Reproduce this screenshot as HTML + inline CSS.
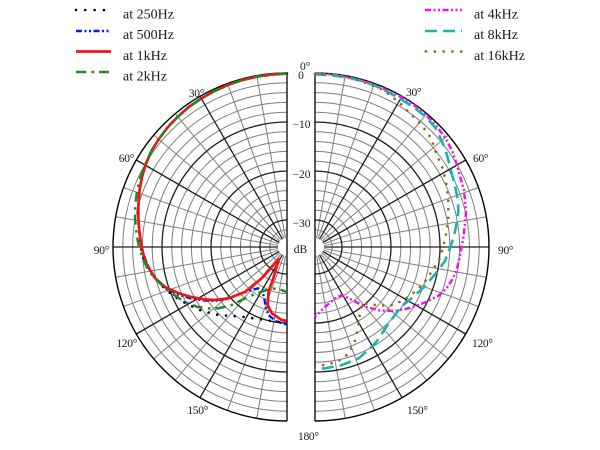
<!DOCTYPE html>
<html>
<head>
<meta charset="utf-8">
<style>
  html,body{margin:0;padding:0;background:#fff;}
  svg{display:block;}
  text{font-family:"Liberation Serif","DejaVu Serif",serif;fill:#1a1a1a;}
</style>
</head>
<body>
<svg width="600" height="450" viewBox="0 0 600 450" xmlns="http://www.w3.org/2000/svg">
  <rect x="0" y="0" width="600" height="450" fill="#fff"/>

  <!-- LEFT GRID -->
  <g id="gridL" transform="translate(287,247)" fill="none">
    <g stroke="#7e7e7e" stroke-width="1">
      <path d="M0,-164.2 A164.2,164.2 0 0 0 0,164.2"/>
      <path d="M0,-154.4 A154.4,154.4 0 0 0 0,154.4"/>
      <path d="M0,-144.6 A144.6,144.6 0 0 0 0,144.6"/>
      <path d="M0,-134.8 A134.8,134.8 0 0 0 0,134.8"/>
      <path d="M0,-115.2 A115.2,115.2 0 0 0 0,115.2"/>
      <path d="M0,-105.4 A105.4,105.4 0 0 0 0,105.4"/>
      <path d="M0,-95.6 A95.6,95.6 0 0 0 0,95.6"/>
      <path d="M0,-85.8 A85.8,85.8 0 0 0 0,85.8"/>
      <path d="M0,-66.2 A66.2,66.2 0 0 0 0,66.2"/>
      <path d="M0,-56.4 A56.4,56.4 0 0 0 0,56.4"/>
      <path d="M0,-46.6 A46.6,46.6 0 0 0 0,46.6"/>
      <path d="M0,-36.8 A36.8,36.8 0 0 0 0,36.8"/>
      <path d="M0,-17.2 A17.2,17.2 0 0 0 0,17.2"/>
      <line x1="0" y1="-9" x2="0" y2="-174" transform="rotate(-10)"/>
      <line x1="0" y1="-9" x2="0" y2="-174" transform="rotate(-20)"/>
      <line x1="0" y1="-9" x2="0" y2="-174" transform="rotate(-40)"/>
      <line x1="0" y1="-9" x2="0" y2="-174" transform="rotate(-50)"/>
      <line x1="0" y1="-9" x2="0" y2="-174" transform="rotate(-70)"/>
      <line x1="0" y1="-9" x2="0" y2="-174" transform="rotate(-80)"/>
      <line x1="0" y1="-9" x2="0" y2="-174" transform="rotate(-100)"/>
      <line x1="0" y1="-9" x2="0" y2="-174" transform="rotate(-110)"/>
      <line x1="0" y1="-9" x2="0" y2="-174" transform="rotate(-130)"/>
      <line x1="0" y1="-9" x2="0" y2="-174" transform="rotate(-140)"/>
      <line x1="0" y1="-9" x2="0" y2="-174" transform="rotate(-160)"/>
      <line x1="0" y1="-9" x2="0" y2="-174" transform="rotate(-170)"/>
    </g>
    <g stroke="#1e1e1e" stroke-width="1.3">
      <path d="M0,-125 A125,125 0 0 0 0,125"/>
      <path d="M0,-76 A76,76 0 0 0 0,76"/>
      <path d="M0,-27 A27,27 0 0 0 0,27"/>
      <line x1="0" y1="-9" x2="0" y2="-174" transform="rotate(-30)"/>
      <line x1="0" y1="-9" x2="0" y2="-174" transform="rotate(-60)"/>
      <line x1="0" y1="-9" x2="0" y2="-174" transform="rotate(-90)"/>
      <line x1="0" y1="-9" x2="0" y2="-174" transform="rotate(-120)"/>
      <line x1="0" y1="-9" x2="0" y2="-174" transform="rotate(-150)"/>
    </g>
    <path d="M0,-174 A174,174 0 0 0 0,174" stroke="#000" stroke-width="1.4"/>
    <line x1="0" y1="-174" x2="0" y2="174" stroke="#000" stroke-width="1.3"/>
  </g>
  <!-- RIGHT GRID (mirror) -->
  <use href="#gridL" transform="translate(602,0) scale(-1,1)"/>

  <!-- LEFT CURVES -->
  <g fill="none" stroke-linejoin="round">
    <polyline stroke="#000" stroke-width="2.6" stroke-linecap="round" stroke-dasharray="0.01 8.8"
      points="287,73.5 272,74.5 257,76.6 242.3,80.1 228,84.9 214.3,91.1 201.3,98.5 188.9,106.9 177.7,116.8 167.5,127.5 158.7,139.3 151,151.8 145.4,165.3 142,177 139.5,190 138.4,205 138.3,216.7 139,230 140,245 143.3,258 148,268 155,278 165,289 175,297 187,304 200,310 215,314.5 230,316 245,317 258,319 272,321 287,323"/>
    <polyline stroke="#0a18ee" stroke-width="2.4" stroke-dasharray="6 2.5 2 2.5 2 2.5"
      points="287,73.5 272,74.5 257,76.6 242.3,80.1 228,84.9 214.3,91.1 201.3,98.5 188.9,106.9 177.7,116.8 167.5,127.5 158.7,139.3 151,151.8 145.4,165.3 142,177 139.5,190 138.4,205 138.3,216.7 139,228 140.5,240 143,253 147.5,265 155,278.5 165,288 178,294.5 191,298.5 205,300.5 215,301 228,298.5 240,294 250,290.5 258.3,288.3 262,291 264,297 265.5,305 268.3,315 276.7,321.7 287,324.5"/>
    <polyline stroke="#ee1414" stroke-width="2.7"
      points="287,73.5 272,74.5 257,76.6 242.3,80.1 228,84.9 214.3,91.1 201.3,98.5 188.9,106.9 177.7,116.8 167.5,127.5 158.7,139.3 151,151.8 145.4,165.3 142,177 139.5,190 138.4,205 138.3,216.7 139,228 140.5,240 143,253 147,265 155,278 165,287 178,293 191,297 205,299.5 215,300 228,298.5 245,292 262,278 279,259 273.3,278.3 268.5,291.7 267.7,305 271.7,313.3 281.7,320 287,321"/>
    <polyline stroke="#1e8a1e" stroke-width="2.5" stroke-dasharray="10 5.5 2.5 5"
      points="287,73.5 272,74.5 257,76.6 242.3,80.1 228,84.9 214.3,91.1 201.3,98.5 188.9,106.9 177.7,116.8 167.5,127.5 158.7,139.3 151,151.8 144.5,166 139.5,180 136.7,193.3 135.3,205 135,216.7 136,230 138,242 140,250 143.5,260 148.3,270 153.5,277 160,283.3 168,290.5 176.7,296.7 185,302 196.7,306.7 208,308.5 218.3,308.3 231.7,305 248.3,296.7 261.7,291.7 271.7,288.3 280,289.5 287,292"/>
  </g>

  <!-- RIGHT CURVES -->
  <g fill="none" stroke-linejoin="round">
    <polyline stroke="#f012f0" stroke-width="2.5" stroke-dasharray="6 2.5 2 2.5 2 2.5"
      points="315,73.5 330,74.2 345,76.4 359.7,79.9 374,84.6 388,90.7 401.5,97.2 414.2,105.3 425.9,114.9 436.3,125.7 445.2,137.7 452.2,150.9 457,165 460.5,178 464,190 465,200 466,212 465,223.3 463.7,235 461.7,246.7 459.5,258 456.7,270 452,280 446,289 438,296 426,302 410,308 395,311 380,310.5 365.3,306.7 352,300 342,295 335.3,298.3 325.3,306.7 317,315 315,316.7"/>
    <polyline stroke="#1ab4ae" stroke-width="2.6" stroke-dasharray="12 6"
      points="315,74.5 330,75 344.9,77.1 359.6,80.3 373.8,85.1 387.2,91.6 400.5,98.9 413.1,106.9 424.9,116 434.9,127.1 441.8,140.6 446.9,154.7 450.3,168 454.5,184 458,200 458.3,212 456.7,223.3 454,236 450,248 445,261 437,272 424,287 412,298 402,306 395,315 388.7,323.3 381,335 375.3,343.3 366,352 358.7,358.3 342,365 325.3,368.3 315,369.5"/>
    <polyline stroke="#9a6810" stroke-width="2.7" stroke-linecap="round" stroke-dasharray="0.01 8.5"
      points="315,74 330,74.6 345,77 359.5,80.6 372,85.5 383.3,90 392.5,97 401.7,105 413.3,116.7 421.7,125 430,136.7 434,146 436.7,155 440,162 443.3,170 446.5,185 448.3,200 448.3,220 446,234 443.3,246.7 440,258 434,268 424,283 415.3,291.7 405,299 393.7,305 384,305.5 375.3,305 362,303.3 360,312 359,322 355.3,340 348.7,353.3 341.7,359.3 332,363.3 315.3,366.7"/>
  </g>

  <!-- Angle labels -->
  <g font-size="11.5" letter-spacing="-0.3">
    <text x="300" y="70">0°</text>
    <text x="298" y="440">180°</text>
    <text x="204" y="97" text-anchor="end">30°</text>
    <text x="134" y="162" text-anchor="end">60°</text>
    <text x="109" y="254" text-anchor="end">90°</text>
    <text x="137" y="347" text-anchor="end">120°</text>
    <text x="208" y="414" text-anchor="end">150°</text>
    <text x="406" y="96">30°</text>
    <text x="473" y="162">60°</text>
    <text x="498" y="254">90°</text>
    <text x="472" y="347">120°</text>
    <text x="407" y="414">150°</text>
  </g>
  <!-- dB labels -->
  <g font-size="11.5" text-anchor="middle">
    <text x="301" y="79">0</text>
    <text x="301.5" y="128">−10</text>
    <text x="301.5" y="178">−20</text>
    <text x="301.5" y="227">−30</text>
    <text x="300.5" y="253">dB</text>
  </g>

  <!-- Legend handles -->
  <g fill="none">
    <line x1="76" y1="10" x2="111" y2="10" stroke="#000" stroke-width="2.6" stroke-linecap="round" stroke-dasharray="0.01 9.3"/>
    <line x1="76" y1="31" x2="111" y2="31" stroke="#0a18ee" stroke-width="2.4" stroke-dasharray="6 2.5 2 2.5 2 2.5"/>
    <line x1="76" y1="51.5" x2="111" y2="51.5" stroke="#ee1414" stroke-width="2.7"/>
    <line x1="76" y1="72" x2="111" y2="72" stroke="#1e8a1e" stroke-width="2.5" stroke-dasharray="10 5.5 2.5 5"/>
    <line x1="425" y1="10" x2="462" y2="10" stroke="#f012f0" stroke-width="2.5" stroke-dasharray="6 2.5 2 2.5 2 2.5"/>
    <line x1="425" y1="31" x2="462" y2="31" stroke="#1ab4ae" stroke-width="2.6" stroke-dasharray="12 6"/>
    <line x1="426" y1="51.5" x2="462" y2="51.5" stroke="#9a6810" stroke-width="2.7" stroke-linecap="round" stroke-dasharray="0.01 8.8"/>
  </g>
  <g font-size="14">
    <text x="123" y="18.5">at 250Hz</text>
    <text x="123" y="39">at 500Hz</text>
    <text x="123" y="60">at 1kHz</text>
    <text x="123" y="80.5">at 2kHz</text>
    <text x="474" y="18.5">at 4kHz</text>
    <text x="474" y="39">at 8kHz</text>
    <text x="474" y="60">at 16kHz</text>
  </g>
</svg>
</body>
</html>
